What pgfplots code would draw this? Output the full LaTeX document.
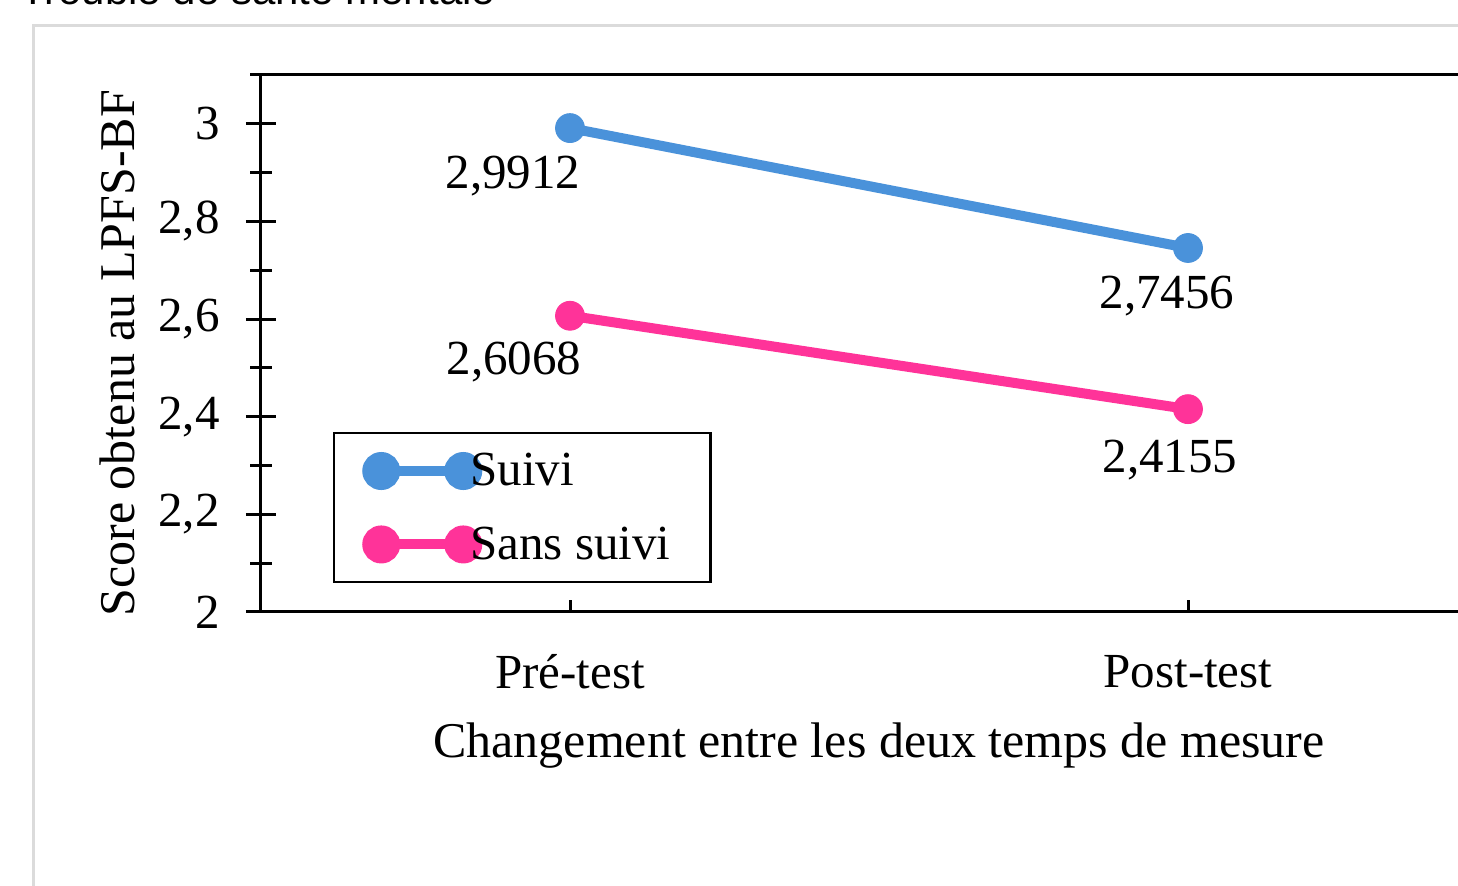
\documentclass[border=0pt]{standalone}
\usepackage{fontspec}
\setmainfont{Liberation Serif}
\newfontfamily\sansf{Liberation Sans}
\usepackage{pgfplots}
\pgfplotsset{compat=1.18}
\definecolor{cblue}{RGB}{74,146,218}
\definecolor{cpink}{RGB}{255,51,153}
\begin{document}
\begin{tikzpicture}
\useasboundingbox (0,0) rectangle (729pt,443pt);
\clip (0,0) rectangle (729pt,443pt);
\fill[white] (0,0) rectangle (729pt,443pt);
\draw[line width=1.5pt, color=black!14] (16.75pt,-20pt) |- (760pt,430pt);
\node[anchor=base west, font=\sansf\fontsize{21}{24}\selectfont, inner sep=0pt] at (10pt,440.8pt) {Trouble de santé mentale};
\begin{axis}[
  at={(130.5pt,137pt)}, anchor=south west, scale only axis,
  width=618pt, height=268.5pt,
  xmin=0, xmax=2, ymin=2, ymax=3.1,
  xtick={0.5,1.5}, xticklabels={Pré-test,Post-test},
  ytick={2,2.2,2.4,2.6,2.8,3}, minor ytick={2.1,2.3,2.5,2.7,2.9,3.1},
  xtick pos=bottom, ytick pos=left,
  ytick align=center, xtick align=inside,
  major tick length=15pt, minor tick length=10.5pt,
  xtick style={/pgfplots/major tick length=6pt},
  every tick/.style={black, line width=1.5pt},
  axis line style={black, line width=1.5pt},
  /pgf/number format/use comma,
  /pgf/number format/assume math mode=true,
  tick label style={font=\fontsize{24.5}{29}\selectfont},
  yticklabel style={inner sep=0pt, anchor=east, xshift=-13pt},
  xticklabel style={inner sep=0pt, anchor=center, yshift=-30pt},
  label style={font=\fontsize{25}{30}\selectfont},
  xlabel={Changement entre les deux temps de mesure},
  ylabel={Score obtenu au LPFS-BF},
  xlabel style={at={(axis description cs:0.5,-0.249)}, anchor=center, inner sep=0pt},
  ylabel style={at={(axis description cs:-0.1165,0.482)}, anchor=center, inner sep=0pt},
  legend style={at={(0.0583,0.335)}, anchor=north west, draw=black, line width=1.2pt,
    font=\fontsize{24.5}{29}\selectfont, row sep=15pt, inner xsep=10pt, inner ysep=8pt},
  legend cell align=left,
  clip=false,
]
\addplot[draw=cblue, line width=5pt, mark=*, mark size=7.2pt,
  mark options={solid, fill=cblue, draw=cblue, line width=0.5pt},
  legend image code/.code={%
    \draw[cblue, line width=5pt, overlay] (0pt,0pt) -- (41pt,0pt);
    \fill[cblue, overlay] (0pt,0pt) circle (7pt) (41pt,0pt) circle (7pt);
    \path[draw=none, fill=none] (-13.5pt,-6pt) rectangle (42.5pt,6pt);}]
  coordinates {(0.5,2.9912) (1.5,2.7456)};
\addlegendentry{Suivi}
\addplot[draw=cpink, line width=5pt, mark=*, mark size=7.2pt,
  mark options={solid, fill=cpink, draw=cpink, line width=0.5pt},
  legend image code/.code={%
    \draw[cpink, line width=5pt, overlay] (0pt,0pt) -- (41pt,0pt);
    \fill[cpink, overlay] (0pt,0pt) circle (7pt) (41pt,0pt) circle (7pt);
    \path[draw=none, fill=none] (-13.5pt,-6pt) rectangle (42.5pt,6pt);}]
  coordinates {(0.5,2.6068) (1.5,2.4155)};
\addlegendentry{Sans suivi\hspace*{8pt}}
\begin{scope}[every node/.style={font=\fontsize{24.5}{29}\selectfont, inner sep=0pt, anchor=center}]
\node[xshift=-28.5pt, yshift=-24pt] at (axis cs:0.5,2.9912) {2,9912};
\node[xshift=-10.5pt, yshift=-24pt] at (axis cs:1.5,2.7456) {2,7456};
\node[xshift=-28pt, yshift=-23pt] at (axis cs:0.5,2.6068) {2,6068};
\node[xshift=-9pt, yshift=-25.5pt] at (axis cs:1.5,2.4155) {2,4155};
\end{scope}
\end{axis}
\end{tikzpicture}
\end{document}
